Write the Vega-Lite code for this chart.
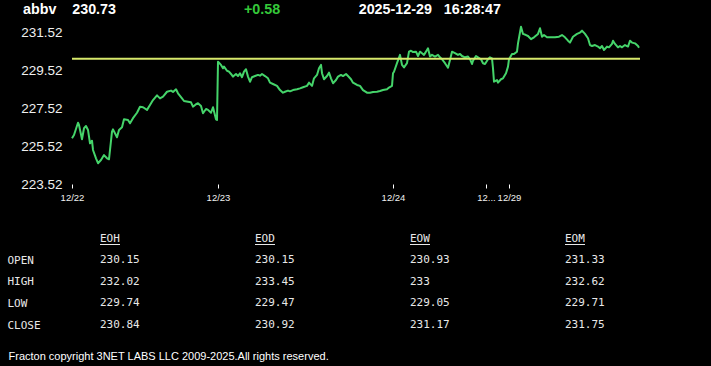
{
  "$schema": "https://vega.github.io/schema/vega-lite/v6.json",
  "width": 711,
  "height": 366,
  "padding": 0,
  "autosize": {"type": "none"},
  "background": "#000000",
  "config": {"view": {"stroke": null}, "axis": {"grid": false}},
  "datasets": {
    "intraday": [
      {"bar":0,"price":225.94},{"bar":2,"price":226.11},{"bar":6,"price":226.76},{"bar":7,"price":226.64},{"bar":10,"price":225.89},{"bar":12,"price":226.47},{"bar":14,"price":226.59},{"bar":16,"price":226.38},{"bar":18,"price":225.67},{"bar":20,"price":225.81},{"bar":21,"price":225.32},{"bar":24,"price":224.88},{"bar":26,"price":224.62},{"bar":29,"price":224.79},{"bar":32,"price":225.05},{"bar":35,"price":224.88},{"bar":37,"price":224.83},{"bar":40,"price":226.29},{"bar":41,"price":226.41},{"bar":45,"price":225.99},{"bar":47,"price":226.38},{"bar":50,"price":226.52},{"bar":52,"price":226.94},{"bar":56,"price":226.91},{"bar":58,"price":226.73},{"bar":61,"price":227.0},{"bar":65,"price":227.29},{"bar":68,"price":227.61},{"bar":71,"price":227.58},{"bar":75,"price":227.44},{"bar":78,"price":227.7},{"bar":81,"price":227.96},{"bar":85,"price":228.21},{"bar":88,"price":228.05},{"bar":91,"price":228.14},{"bar":95,"price":228.4},{"bar":99,"price":228.46},{"bar":101,"price":228.39},{"bar":104,"price":228.53},{"bar":106,"price":228.32},{"bar":110,"price":228.05},{"bar":112,"price":227.91},{"bar":116,"price":227.87},{"bar":119,"price":227.84},{"bar":121,"price":227.61},{"bar":124,"price":227.74},{"bar":126,"price":227.79},{"bar":129,"price":227.65},{"bar":131,"price":227.26},{"bar":134,"price":227.49},{"bar":136,"price":227.44},{"bar":139,"price":227.29},{"bar":141,"price":227.58},{"bar":144,"price":226.94},{"bar":145,"price":226.91},
      {"bar":146,"price":229.99},{"bar":149,"price":229.82},{"bar":151,"price":229.64},{"bar":152,"price":229.73},{"bar":155,"price":229.51},{"bar":157,"price":229.46},{"bar":159,"price":229.34},{"bar":161,"price":229.2},{"bar":164,"price":229.34},{"bar":166,"price":229.23},{"bar":168,"price":229.38},{"bar":170,"price":229.17},{"bar":172,"price":229.46},{"bar":174,"price":229.59},{"bar":176,"price":229.2},{"bar":178,"price":228.93},{"bar":180,"price":229.17},{"bar":183,"price":229.23},{"bar":186,"price":229.29},{"bar":188,"price":229.25},{"bar":190,"price":229.34},{"bar":193,"price":229.23},{"bar":196,"price":229.11},{"bar":198,"price":228.88},{"bar":201,"price":228.81},{"bar":205,"price":228.71},{"bar":208,"price":228.49},{"bar":211,"price":228.35},{"bar":213,"price":228.4},{"bar":216,"price":228.46},{"bar":218,"price":228.42},{"bar":221,"price":228.49},{"bar":225,"price":228.53},{"bar":228,"price":228.58},{"bar":231,"price":228.64},{"bar":235,"price":228.71},{"bar":237,"price":228.88},{"bar":240,"price":228.71},{"bar":242,"price":229.11},{"bar":245,"price":229.29},{"bar":247,"price":229.64},{"bar":249,"price":229.82},{"bar":250,"price":229.38},{"bar":252,"price":229.06},{"bar":255,"price":229.23},{"bar":257,"price":229.41},{"bar":259,"price":229.11},{"bar":261,"price":228.85},{"bar":264,"price":229.02},{"bar":266,"price":229.2},{"bar":269,"price":229.29},{"bar":271,"price":229.23},{"bar":274,"price":229.34},{"bar":276,"price":229.23},{"bar":279,"price":229.06},{"bar":281,"price":228.88},{"bar":285,"price":228.76},{"bar":288,"price":228.71},{"bar":291,"price":228.49},{"bar":295,"price":228.35},{"bar":298,"price":228.35},{"bar":301,"price":228.39},{"bar":305,"price":228.4},{"bar":308,"price":228.44},{"bar":311,"price":228.49},{"bar":315,"price":228.53},{"bar":317,"price":228.62},{"bar":320,"price":228.71},
      {"bar":321,"price":229.38},{"bar":322,"price":229.46},{"bar":325,"price":229.91},{"bar":328,"price":230.35},{"bar":330,"price":229.82},{"bar":332,"price":229.69},{"bar":335,"price":229.91},{"bar":337,"price":230.52},{"bar":339,"price":230.57},{"bar":341,"price":230.5},{"bar":344,"price":230.52},{"bar":346,"price":230.29},{"bar":348,"price":230.52},{"bar":350,"price":230.44},{"bar":352,"price":230.35},{"bar":355,"price":230.61},{"bar":356,"price":230.7},{"bar":358,"price":230.26},{"bar":360,"price":230.35},{"bar":363,"price":230.26},{"bar":366,"price":230.35},{"bar":368,"price":230.22},{"bar":370,"price":230.12},{"bar":373,"price":229.91},{"bar":376,"price":229.67},{"bar":378,"price":230.08},{"bar":380,"price":230.52},{"bar":383,"price":230.44},{"bar":386,"price":230.35},{"bar":388,"price":230.4},{"bar":390,"price":230.29},{"bar":393,"price":230.22},{"bar":396,"price":230.26},{"bar":398,"price":230.12},{"bar":400,"price":229.87},{"bar":401,"price":230.04},{"bar":404,"price":230.29},{"bar":406,"price":230.22},{"bar":409,"price":230.12},{"bar":411,"price":229.91},{"bar":413,"price":229.87},{"bar":416,"price":230.12},{"bar":418,"price":230.22},{"bar":420,"price":230.17},{"bar":421,"price":229.64},{"bar":422,"price":228.93},{"bar":425,"price":229.02},{"bar":426,"price":228.88},{"bar":429,"price":229.06},{"bar":431,"price":229.11},{"bar":434,"price":229.38},{"bar":436,"price":229.73},{"bar":437,"price":230.12},{"bar":440,"price":230.4},{"bar":442,"price":230.4},{"bar":445,"price":230.52},{"bar":446,"price":230.96},{"bar":449,"price":231.84},{"bar":451,"price":231.46},{"bar":454,"price":231.4},{"bar":456,"price":231.35},{"bar":459,"price":231.18},{"bar":462,"price":231.28},{"bar":466,"price":231.46},{"bar":468,"price":231.76},{"bar":470,"price":231.31},{"bar":472,"price":231.4},{"bar":475,"price":231.28},{"bar":478,"price":231.28},{"bar":483,"price":231.28},{"bar":487,"price":231.31},{"bar":490,"price":231.4},{"bar":493,"price":231.28},{"bar":496,"price":231.1},{"bar":498,"price":231.0},{"bar":501,"price":231.31},{"bar":505,"price":231.46},{"bar":508,"price":231.53},{"bar":510,"price":231.63},{"bar":513,"price":231.46},{"bar":516,"price":231.23},{"bar":518,"price":230.87},{"bar":520,"price":230.82},{"bar":523,"price":230.87},{"bar":526,"price":230.79},{"bar":528,"price":230.7},{"bar":530,"price":230.82},{"bar":532,"price":230.61},{"bar":535,"price":230.79},{"bar":537,"price":230.75},{"bar":540,"price":230.93},{"bar":541,"price":231.1},{"bar":543,"price":230.93},{"bar":546,"price":230.75},{"bar":548,"price":230.82},{"bar":550,"price":230.75},{"bar":553,"price":230.87},{"bar":556,"price":230.79},{"bar":558,"price":231.1},{"bar":560,"price":231.0},{"bar":563,"price":230.96},{"bar":566,"price":230.82},{"bar":567,"price":230.73}
    ],
    "stats": [
      {"col":"EOH","row":"OPEN","value":230.15},{"col":"EOH","row":"HIGH","value":232.02},{"col":"EOH","row":"LOW","value":229.74},{"col":"EOH","row":"CLOSE","value":230.84},
      {"col":"EOD","row":"OPEN","value":230.15},{"col":"EOD","row":"HIGH","value":233.45},{"col":"EOD","row":"LOW","value":229.47},{"col":"EOD","row":"CLOSE","value":230.92},
      {"col":"EOW","row":"OPEN","value":230.93},{"col":"EOW","row":"HIGH","value":233},{"col":"EOW","row":"LOW","value":229.05},{"col":"EOW","row":"CLOSE","value":231.17},
      {"col":"EOM","row":"OPEN","value":231.33},{"col":"EOM","row":"HIGH","value":232.62},{"col":"EOM","row":"LOW","value":229.71},{"col":"EOM","row":"CLOSE","value":231.75}
    ],
    "columns": [
      {"col":"EOH","row":"hdr"},{"col":"EOD","row":"hdr"},{"col":"EOW","row":"hdr"},{"col":"EOM","row":"hdr"}
    ]
  },
  "resolve": {"scale": {"x": "independent", "y": "independent"}},
  "layer": [
    {
      "layer": [
        {
          "data": {"name": "intraday"},
          "mark": {"type": "line", "color": "#45d46a", "strokeWidth": 2, "strokeJoin": "round"},
          "encoding": {
            "x": {"field": "bar", "type": "quantitative",
              "scale": {"domain": [0, 568], "range": [72, 640], "nice": false, "zero": false},
              "axis": {"orient": "bottom", "offset": -182, "values": [0, 146, 321, 414, 437],
                "labelExpr": "datum.value == 0 ? '12/22' : datum.value == 146 ? '12/23' : datum.value == 321 ? '12/24' : datum.value == 414 ? '12...' : '12/29'",
                "domain": false, "ticks": true, "tickSize": 4, "tickColor": "#ffffff", "tickWidth": 1,
                "labelColor": "#f0f0f0", "labelFont": "Liberation Sans", "labelFontSize": 9.5, "labelPadding": 4,
                "labelFlush": false, "labelOverlap": false, "labelBound": false, "grid": false,
                "title": "Fracton copyright 3NET LABS LLC 2009-2025.All rights reserved.",
                "titleX": 8, "titleY": 175, "titleAlign": "left", "titleBaseline": "alphabetic",
                "titleFont": "Liberation Sans", "titleFontSize": 11, "titleFontWeight": "normal", "titleColor": "#ffffff"}},
            "y": {"field": "price", "type": "quantitative",
              "scale": {"domain": [223.52, 232.1], "range": [184, 21.8], "nice": false, "zero": false},
              "axis": {"orient": "left", "offset": -72, "values": [223.52, 225.52, 227.52, 229.52, 231.52], "format": ".2f",
                "domain": false, "ticks": false, "tickSize": 0, "labelPadding": 10,
                "labelColor": "#f0f0f0", "labelFont": "Liberation Sans", "labelFontSize": 13.5,
                "labelOverlap": false, "labelBound": false, "grid": false, "title": null}}
          }
        },
        {
          "data": {"values": [{"from": 0, "to": 568, "open": 230.15}]},
          "mark": {"type": "rule", "color": "#d7e96b", "strokeWidth": 2},
          "encoding": {
            "x": {"field": "from", "type": "quantitative",
              "scale": {"domain": [0, 568], "range": [72, 640], "nice": false, "zero": false},
              "axis": {"orient": "bottom", "offset": -182, "values": [0, 146, 321, 414, 437],
                "labelExpr": "datum.value == 0 ? '12/22' : datum.value == 146 ? '12/23' : datum.value == 321 ? '12/24' : datum.value == 414 ? '12...' : '12/29'",
                "domain": false, "ticks": true, "tickSize": 4, "tickColor": "#ffffff", "tickWidth": 1,
                "labelColor": "#f0f0f0", "labelFont": "Liberation Sans", "labelFontSize": 9.5, "labelPadding": 4,
                "labelFlush": false, "labelOverlap": false, "labelBound": false, "grid": false,
                "title": "Fracton copyright 3NET LABS LLC 2009-2025.All rights reserved.",
                "titleX": 8, "titleY": 175, "titleAlign": "left", "titleBaseline": "alphabetic",
                "titleFont": "Liberation Sans", "titleFontSize": 11, "titleFontWeight": "normal", "titleColor": "#ffffff"}},
            "x2": {"field": "to"},
            "y": {"field": "open", "type": "quantitative",
              "scale": {"domain": [223.52, 232.1], "range": [184, 21.8], "nice": false, "zero": false},
              "axis": {"orient": "left", "offset": -72, "values": [223.52, 225.52, 227.52, 229.52, 231.52], "format": ".2f",
                "domain": false, "ticks": false, "tickSize": 0, "labelPadding": 10,
                "labelColor": "#f0f0f0", "labelFont": "Liberation Sans", "labelFontSize": 13.5,
                "labelOverlap": false, "labelBound": false, "grid": false, "title": null}}
          }
        }
      ]
    },
    {
      "data": {"values": [
        {"part": "symbol", "text": "abbv\u00a0\u00a0\u00a0\u00a0230.73"},
        {"part": "change", "text": "+0.58"},
        {"part": "time", "text": "2025-12-29\u00a0\u00a0\u00a016:28:47"}
      ]},
      "encoding": {
        "x": {"field": "part", "type": "nominal", "scale": {"type": "point", "domain": ["symbol", "change", "time"], "range": [23, 501], "padding": 0}, "axis": null},
        "y": {"datum": "header", "type": "nominal", "scale": {"type": "point", "domain": ["header"], "range": [14, 14], "padding": 0}, "axis": null},
        "text": {"field": "text"}
      },
      "layer": [
        {"transform": [{"filter": "datum.part === 'symbol'"}],
         "mark": {"type": "text", "align": "left", "baseline": "alphabetic", "font": "Liberation Sans", "fontWeight": "bold", "fontSize": 14.3, "color": "#ffffff"}},
        {"transform": [{"filter": "datum.part === 'change'"}],
         "mark": {"type": "text", "align": "center", "baseline": "alphabetic", "font": "Liberation Sans", "fontWeight": "bold", "fontSize": 14.3, "color": "#35c93a"}},
        {"transform": [{"filter": "datum.part === 'time'"}],
         "mark": {"type": "text", "align": "right", "baseline": "alphabetic", "font": "Liberation Sans", "fontWeight": "bold", "fontSize": 14.3, "color": "#ffffff"}}
      ]
    },
    {
      "encoding": {
        "x": {"field": "col", "type": "nominal", "scale": {"type": "point", "domain": ["EOH", "EOD", "EOW", "EOM"], "range": [100, 565], "padding": 0}, "axis": null},
        "y": {"field": "row", "type": "nominal",
          "scale": {"type": "point", "domain": ["hdr", "OPEN", "HIGH", "LOW", "CLOSE"], "range": [238.5, 325], "padding": 0},
          "axis": {"orient": "left", "offset": -7, "domain": false, "ticks": false, "tickSize": 0, "labelPadding": 0,
            "labelAlign": "left", "labelBaseline": "middle", "labelFont": "DejaVu Sans Mono", "labelFontSize": 11,
            "labelColor": "#e8e8e8", "labelExpr": "datum.value === 'hdr' ? '' : datum.value", "labelOverlap": false, "labelBound": false,
            "title": null, "grid": false}}
      },
      "layer": [
        {"data": {"name": "columns"},
         "mark": {"type": "text", "align": "left", "baseline": "middle", "font": "DejaVu Sans Mono", "fontSize": 11, "color": "#e8e8e8"},
         "encoding": {"text": {"field": "col"}}},
        {"data": {"name": "columns"},
         "mark": {"type": "rule", "x2Offset": 20, "yOffset": 6, "color": "#e8e8e8", "strokeWidth": 1},
         "encoding": {"x2": {"field": "col"}}},
        {"data": {"name": "stats"},
         "mark": {"type": "text", "align": "left", "baseline": "middle", "font": "DejaVu Sans Mono", "fontSize": 11, "color": "#e8e8e8"},
         "encoding": {"text": {"field": "value", "type": "quantitative", "format": "~f"}}}
      ]
    }
  ]
}
